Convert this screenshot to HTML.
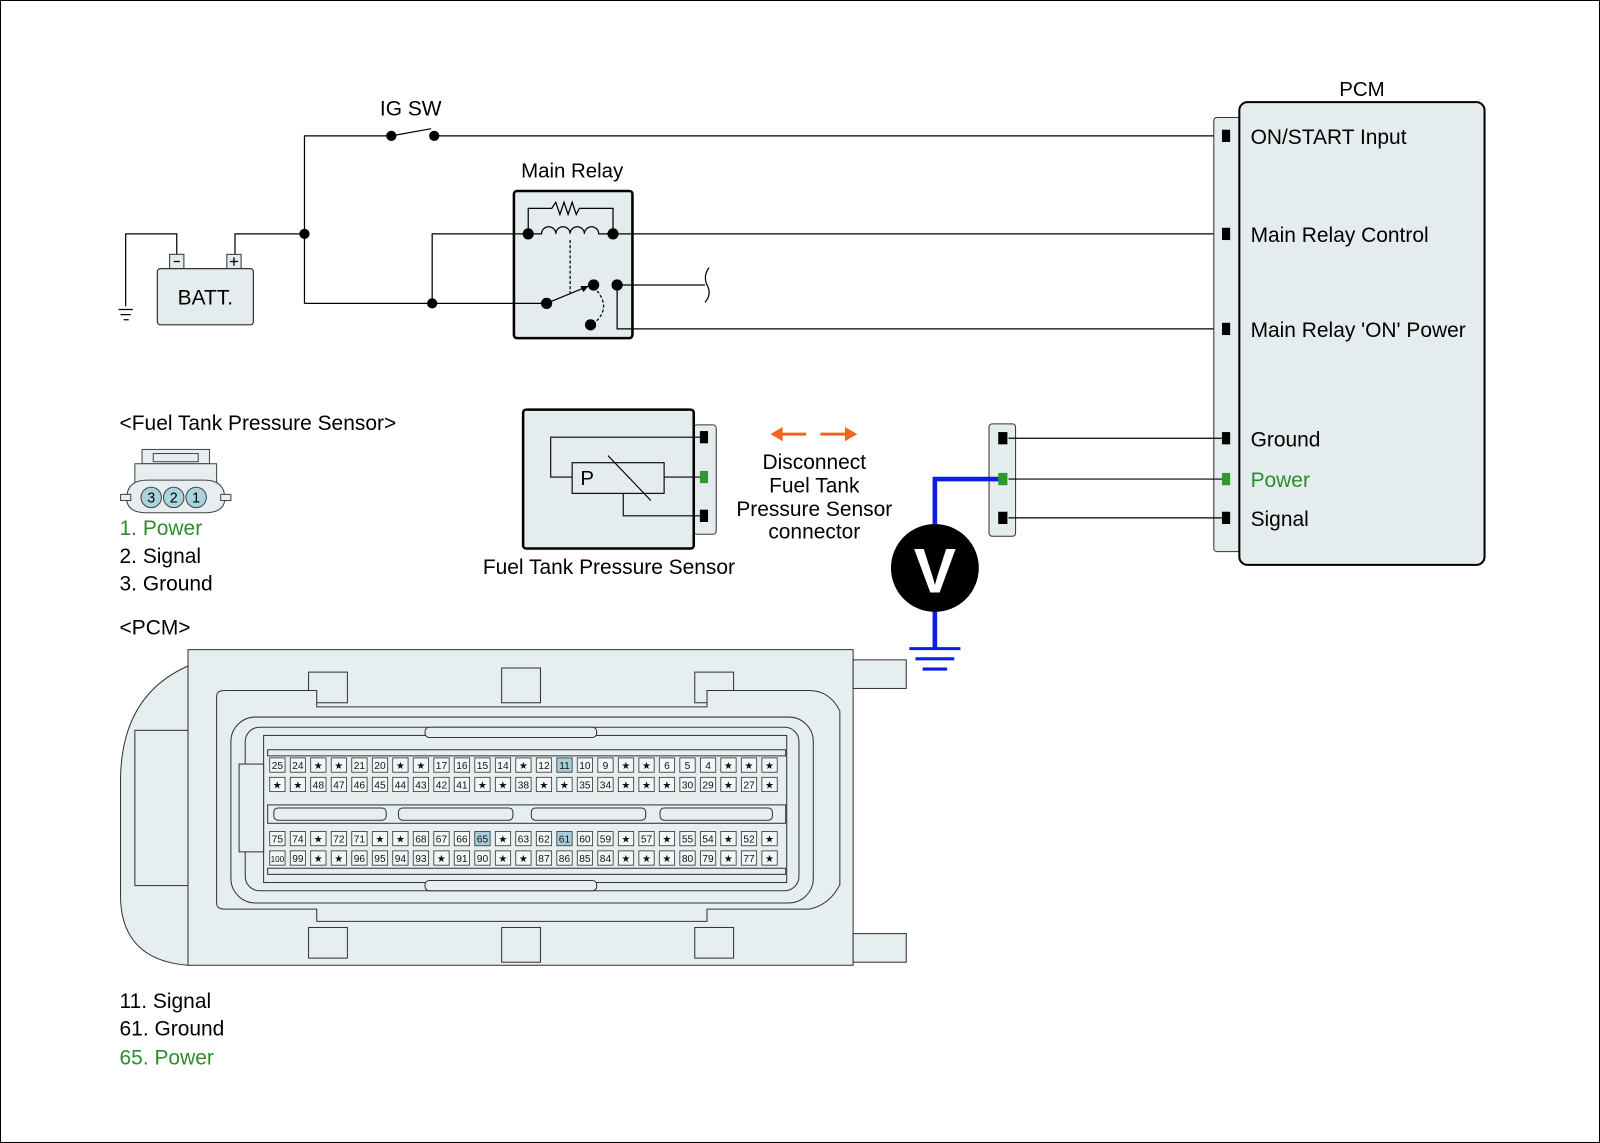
<!DOCTYPE html>
<html><head><meta charset="utf-8"><style>
html,body{margin:0;padding:0;background:#fff}
svg{display:block}
text{font-family:"Liberation Sans",sans-serif}
.p rect{fill:#f4f7f7;stroke:#333;stroke-width:0.8}
.p text{font-size:10px;text-anchor:middle;fill:#111}
</style></head><body>
<svg width="1600" height="1143" viewBox="0 0 1566 1119" preserveAspectRatio="none" xmlns="http://www.w3.org/2000/svg">
<rect x="0.5" y="0.5" width="1565" height="1118" fill="#fff" stroke="#000" stroke-width="1"/>
<text x="560" y="174" font-size="20" text-anchor="middle">Main Relay</text>
<rect x="503" y="187" width="116" height="144" rx="3" fill="#e4eced" stroke="#000" stroke-width="2.5"/>
<g fill="none" stroke="#000" stroke-width="1.2">
<path d="M298 297 V133 H383"/>
<path d="M383 133 L422 126"/>
<path d="M425 133 H1190"/>
<path d="M230 250 V229 H298"/>
<path d="M173 250 V229 H123 V300"/>
<path d="M116 303 H130 M118 308 H128 M121 313 H126"/>
<path d="M298 297 H535"/>
<path d="M423 297 V229 H517"/>
<path d="M600 229 H1195"/>
<path d="M604 279 H690"/>
<path d="M694 262 Q688 270 692 279 Q697 288 690 296"/>
<path d="M604 279 V322 H1195"/>
</g>
<text x="402" y="113" font-size="20.5" text-anchor="middle">IG SW</text>
<circle cx="383" cy="133" r="5"/><circle cx="425" cy="133" r="5"/><circle cx="298" cy="229" r="5"/><circle cx="423" cy="297" r="5"/>
<rect x="166" y="249" width="14" height="14" fill="#e4eced" stroke="#333"/>
<rect x="222" y="249" width="14" height="14" fill="#e4eced" stroke="#333"/>
<path d="M170 256 H176 M225 256 H233 M229 252 V260" stroke="#000" stroke-width="1.3"/>
<rect x="154" y="263" width="94" height="55" rx="3" fill="#e4eced" stroke="#333" stroke-width="1.2"/>
<text x="201" y="298" font-size="20.5" text-anchor="middle">BATT.</text>
<g fill="none" stroke="#000" stroke-width="1.2">
<path d="M517 229 V204 H540 L544 198 L548 210 L552 198 L556 210 L560 198 L564 210 L567 204 H600 V229"/>
<path d="M517 229 H530 a7 7 0 0 1 14 0 a7 7 0 0 1 14 0 a7 7 0 0 1 14 0 a7 7 0 0 1 14 0 H600"/>
<path d="M558 235 V290" stroke-dasharray="3 2"/>
<path d="M581 281 Q600 300 582 316" stroke-dasharray="3 2"/>
<path d="M535 297 L576 280"/>
</g>
<path d="M576 280 l-8 0 l3 6z"/>
<circle cx="517" cy="229" r="5.5"/><circle cx="600" cy="229" r="5.5"/><circle cx="535" cy="297" r="5.5"/><circle cx="581" cy="279" r="5.5"/><circle cx="604" cy="279" r="5.5"/><circle cx="578" cy="318" r="5.5"/>
<text x="1333" y="94" font-size="20" text-anchor="middle">PCM</text>
<rect x="1188" y="115" width="28" height="425" rx="3" fill="#e4eced" stroke="#333"/>
<rect x="1213" y="100" width="240" height="453" rx="8" fill="#e4eced" stroke="#000" stroke-width="2"/>
<g fill="#000"><rect x="1196" y="127" width="8" height="12"/><rect x="1196" y="223" width="8" height="12"/><rect x="1196" y="316" width="8" height="12"/><rect x="1196" y="423" width="8" height="12"/><rect x="1196" y="501" width="8" height="12"/></g>
<rect x="1196" y="463" width="8" height="12" fill="#2e9a2e"/>
<g font-size="20.5"><text x="1224" y="141">ON/START Input</text><text x="1224" y="237">Main Relay Control</text><text x="1224" y="330">Main Relay 'ON' Power</text><text x="1224" y="437">Ground</text><text x="1224" y="477" fill="#2e8b2e">Power</text><text x="1224" y="515">Signal</text></g>
<rect x="968" y="415" width="26" height="110" rx="3" fill="#e4eced" stroke="#333"/>
<path d="M987 429 H1196 M987 469 H1196 M987 507 H1196" stroke="#000" stroke-width="1.2"/>
<rect x="977" y="423" width="9" height="12"/><rect x="977" y="501" width="9" height="12"/>
<path d="M915 515 V469 H981" fill="none" stroke="#0a1ee6" stroke-width="4.5"/>
<path d="M915 598 V635" stroke="#0a1ee6" stroke-width="4.5"/>
<path d="M890 635 H940 M896 645 H934 M903 655 H927" stroke="#0a1ee6" stroke-width="3"/>
<rect x="977" y="463" width="9" height="12" fill="#2e9a2e"/>
<circle cx="915" cy="556" r="43"/>
<text x="915" y="580" font-size="62" font-weight="bold" fill="#fff" text-anchor="middle">V</text>
<path d="M764 425 H789" stroke="#f26522" stroke-width="3"/><path d="M754 425 l12 -7 v14z" fill="#f26522"/>
<path d="M803 425 H828" stroke="#f26522" stroke-width="3"/><path d="M839 425 l-12 -7 v14z" fill="#f26522"/>
<g font-size="20.5" text-anchor="middle"><text x="797" y="459">Disconnect</text><text x="797" y="482">Fuel Tank</text><text x="797" y="505">Pressure Sensor</text><text x="797" y="527">connector</text></g>
<rect x="679" y="416" width="22" height="107" rx="3" fill="#e4eced" stroke="#333"/>
<rect x="512" y="401" width="167" height="136" rx="3" fill="#e4eced" stroke="#000" stroke-width="2.5"/>
<g fill="none" stroke="#000" stroke-width="1.1"><path d="M685 428 H539 V467 H560"/><rect x="560" y="453" width="90" height="30"/><path d="M650 467 H685"/><path d="M610 483 V505 H685"/><path d="M595 446 L637 490"/></g>
<text x="568" y="475" font-size="20">P</text>
<rect x="685" y="422" width="8" height="12"/><rect x="685" y="499" width="8" height="12"/><rect x="685" y="461" width="8" height="12" fill="#2e9a2e"/>
<text x="596" y="562" font-size="20.5" text-anchor="middle">Fuel Tank Pressure Sensor</text>
<g font-size="20.5"><text x="117" y="421">&lt;Fuel Tank Pressure Sensor&gt;</text>
<text x="117" y="524" fill="#2e8b2e">1. Power</text><text x="117" y="551">2. Signal</text><text x="117" y="578">3. Ground</text>
<text x="117" y="621">&lt;PCM&gt;</text>
<text x="117" y="987">11. Signal</text><text x="117" y="1014">61. Ground</text><text x="117" y="1042" fill="#2e8b2e">65. Power</text></g>
<g stroke="#444" fill="#e8eef0" stroke-width="1">
<rect x="139" y="440" width="66" height="14"/><rect x="150" y="444" width="44" height="8"/>
<rect x="132" y="454" width="80" height="20"/>
<path d="M124 488 q0 -18 20 -18 h56 q20 0 20 18 q0 14 -20 14 h-56 q-20 0 -20 -14z"/>
<rect x="118" y="484" width="10" height="6"/><rect x="216" y="484" width="10" height="6"/>
<circle cx="148" cy="487" r="10" fill="#a9d3de"/><circle cx="170" cy="487" r="10" fill="#a9d3de"/><circle cx="192" cy="487" r="10" fill="#a9d3de"/>
</g>
<g font-size="14" text-anchor="middle"><text x="148" y="492">3</text><text x="170" y="492">2</text><text x="192" y="492">1</text></g>
<g stroke="#333" fill="#e6eef0" stroke-width="1">
<path d="M184 652 Q120 680 118 760 V880 Q120 940 184 945 Z"/>
<rect x="132" y="715" width="52" height="152"/>
<rect x="184" y="636" width="651" height="309"/>
<rect x="835" y="646" width="52" height="28"/><rect x="835" y="914" width="52" height="28"/>
<rect x="302" y="658" width="38" height="30"/><rect x="491" y="654" width="38" height="34"/><rect x="680" y="658" width="38" height="30"/>
<rect x="302" y="908" width="38" height="30"/><rect x="491" y="908" width="38" height="34"/><rect x="680" y="908" width="38" height="30"/>
<path d="M212 682 q0 -6 8 -6 h90 v16 h382 v-16 h100 q20 0 30 20 v170 q-10 20 -30 24 h-100 v12 h-382 v-12 h-90 q-8 0 -8 -6z"/>
<rect x="226" y="702" width="570" height="182" rx="24"/>
<rect x="240" y="712" width="542" height="160" rx="14"/>
<rect x="258" y="720" width="512" height="144"/>
<rect x="416" y="712" width="168" height="10" rx="4"/><rect x="416" y="862" width="168" height="10" rx="4"/>
<rect x="262" y="734" width="507" height="6"/>
<rect x="262" y="788" width="507" height="18"/>
<rect x="268" y="791" width="110" height="12" rx="4"/><rect x="390" y="791" width="112" height="12" rx="4"/><rect x="520" y="791" width="112" height="12" rx="4"/><rect x="646" y="791" width="110" height="12" rx="4"/>
<rect x="262" y="850" width="507" height="6"/>
<rect x="234" y="748" width="24" height="86"/>
</g>
<g class="p"><rect x="264" y="742" width="15" height="14"/><text x="271.5" y="753">25</text><rect x="284.1" y="742" width="15" height="14"/><text x="291.6" y="753">24</text><rect x="304.1" y="742" width="15" height="14"/><text x="311.6" y="753">★</text><rect x="324.2" y="742" width="15" height="14"/><text x="331.7" y="753">★</text><rect x="344.3" y="742" width="15" height="14"/><text x="351.8" y="753">21</text><rect x="364.4" y="742" width="15" height="14"/><text x="371.9" y="753">20</text><rect x="384.4" y="742" width="15" height="14"/><text x="391.9" y="753">★</text><rect x="404.5" y="742" width="15" height="14"/><text x="412" y="753">★</text><rect x="424.6" y="742" width="15" height="14"/><text x="432.1" y="753">17</text><rect x="444.6" y="742" width="15" height="14"/><text x="452.1" y="753">16</text><rect x="464.7" y="742" width="15" height="14"/><text x="472.2" y="753">15</text><rect x="484.8" y="742" width="15" height="14"/><text x="492.3" y="753">14</text><rect x="504.8" y="742" width="15" height="14"/><text x="512.3" y="753">★</text><rect x="524.9" y="742" width="15" height="14"/><text x="532.4" y="753">12</text><rect x="545" y="742" width="15" height="14" style="fill:#a9cdd8"/><text x="552.5" y="753">11</text><rect x="565" y="742" width="15" height="14"/><text x="572.5" y="753">10</text><rect x="585.1" y="742" width="15" height="14"/><text x="592.6" y="753">9</text><rect x="605.2" y="742" width="15" height="14"/><text x="612.7" y="753">★</text><rect x="625.3" y="742" width="15" height="14"/><text x="632.8" y="753">★</text><rect x="645.3" y="742" width="15" height="14"/><text x="652.8" y="753">6</text><rect x="665.4" y="742" width="15" height="14"/><text x="672.9" y="753">5</text><rect x="685.5" y="742" width="15" height="14"/><text x="693" y="753">4</text><rect x="705.5" y="742" width="15" height="14"/><text x="713" y="753">★</text><rect x="725.6" y="742" width="15" height="14"/><text x="733.1" y="753">★</text><rect x="745.7" y="742" width="15" height="14"/><text x="753.2" y="753">★</text></g>
<g class="p"><rect x="264" y="761" width="15" height="14"/><text x="271.5" y="772">★</text><rect x="284.1" y="761" width="15" height="14"/><text x="291.6" y="772">★</text><rect x="304.1" y="761" width="15" height="14"/><text x="311.6" y="772">48</text><rect x="324.2" y="761" width="15" height="14"/><text x="331.7" y="772">47</text><rect x="344.3" y="761" width="15" height="14"/><text x="351.8" y="772">46</text><rect x="364.4" y="761" width="15" height="14"/><text x="371.9" y="772">45</text><rect x="384.4" y="761" width="15" height="14"/><text x="391.9" y="772">44</text><rect x="404.5" y="761" width="15" height="14"/><text x="412" y="772">43</text><rect x="424.6" y="761" width="15" height="14"/><text x="432.1" y="772">42</text><rect x="444.6" y="761" width="15" height="14"/><text x="452.1" y="772">41</text><rect x="464.7" y="761" width="15" height="14"/><text x="472.2" y="772">★</text><rect x="484.8" y="761" width="15" height="14"/><text x="492.3" y="772">★</text><rect x="504.8" y="761" width="15" height="14"/><text x="512.3" y="772">38</text><rect x="524.9" y="761" width="15" height="14"/><text x="532.4" y="772">★</text><rect x="545" y="761" width="15" height="14"/><text x="552.5" y="772">★</text><rect x="565" y="761" width="15" height="14"/><text x="572.5" y="772">35</text><rect x="585.1" y="761" width="15" height="14"/><text x="592.6" y="772">34</text><rect x="605.2" y="761" width="15" height="14"/><text x="612.7" y="772">★</text><rect x="625.3" y="761" width="15" height="14"/><text x="632.8" y="772">★</text><rect x="645.3" y="761" width="15" height="14"/><text x="652.8" y="772">★</text><rect x="665.4" y="761" width="15" height="14"/><text x="672.9" y="772">30</text><rect x="685.5" y="761" width="15" height="14"/><text x="693" y="772">29</text><rect x="705.5" y="761" width="15" height="14"/><text x="713" y="772">★</text><rect x="725.6" y="761" width="15" height="14"/><text x="733.1" y="772">27</text><rect x="745.7" y="761" width="15" height="14"/><text x="753.2" y="772">★</text></g>
<g class="p"><rect x="264" y="814" width="15" height="14"/><text x="271.5" y="825">75</text><rect x="284.1" y="814" width="15" height="14"/><text x="291.6" y="825">74</text><rect x="304.1" y="814" width="15" height="14"/><text x="311.6" y="825">★</text><rect x="324.2" y="814" width="15" height="14"/><text x="331.7" y="825">72</text><rect x="344.3" y="814" width="15" height="14"/><text x="351.8" y="825">71</text><rect x="364.4" y="814" width="15" height="14"/><text x="371.9" y="825">★</text><rect x="384.4" y="814" width="15" height="14"/><text x="391.9" y="825">★</text><rect x="404.5" y="814" width="15" height="14"/><text x="412" y="825">68</text><rect x="424.6" y="814" width="15" height="14"/><text x="432.1" y="825">67</text><rect x="444.6" y="814" width="15" height="14"/><text x="452.1" y="825">66</text><rect x="464.7" y="814" width="15" height="14" style="fill:#a9cdd8"/><text x="472.2" y="825">65</text><rect x="484.8" y="814" width="15" height="14"/><text x="492.3" y="825">★</text><rect x="504.8" y="814" width="15" height="14"/><text x="512.3" y="825">63</text><rect x="524.9" y="814" width="15" height="14"/><text x="532.4" y="825">62</text><rect x="545" y="814" width="15" height="14" style="fill:#a9cdd8"/><text x="552.5" y="825">61</text><rect x="565" y="814" width="15" height="14"/><text x="572.5" y="825">60</text><rect x="585.1" y="814" width="15" height="14"/><text x="592.6" y="825">59</text><rect x="605.2" y="814" width="15" height="14"/><text x="612.7" y="825">★</text><rect x="625.3" y="814" width="15" height="14"/><text x="632.8" y="825">57</text><rect x="645.3" y="814" width="15" height="14"/><text x="652.8" y="825">★</text><rect x="665.4" y="814" width="15" height="14"/><text x="672.9" y="825">55</text><rect x="685.5" y="814" width="15" height="14"/><text x="693" y="825">54</text><rect x="705.5" y="814" width="15" height="14"/><text x="713" y="825">★</text><rect x="725.6" y="814" width="15" height="14"/><text x="733.1" y="825">52</text><rect x="745.7" y="814" width="15" height="14"/><text x="753.2" y="825">★</text></g>
<g class="p"><rect x="264" y="833" width="15" height="14"/><text x="271.5" y="844" style="font-size:8px">100</text><rect x="284.1" y="833" width="15" height="14"/><text x="291.6" y="844">99</text><rect x="304.1" y="833" width="15" height="14"/><text x="311.6" y="844">★</text><rect x="324.2" y="833" width="15" height="14"/><text x="331.7" y="844">★</text><rect x="344.3" y="833" width="15" height="14"/><text x="351.8" y="844">96</text><rect x="364.4" y="833" width="15" height="14"/><text x="371.9" y="844">95</text><rect x="384.4" y="833" width="15" height="14"/><text x="391.9" y="844">94</text><rect x="404.5" y="833" width="15" height="14"/><text x="412" y="844">93</text><rect x="424.6" y="833" width="15" height="14"/><text x="432.1" y="844">★</text><rect x="444.6" y="833" width="15" height="14"/><text x="452.1" y="844">91</text><rect x="464.7" y="833" width="15" height="14"/><text x="472.2" y="844">90</text><rect x="484.8" y="833" width="15" height="14"/><text x="492.3" y="844">★</text><rect x="504.8" y="833" width="15" height="14"/><text x="512.3" y="844">★</text><rect x="524.9" y="833" width="15" height="14"/><text x="532.4" y="844">87</text><rect x="545" y="833" width="15" height="14"/><text x="552.5" y="844">86</text><rect x="565" y="833" width="15" height="14"/><text x="572.5" y="844">85</text><rect x="585.1" y="833" width="15" height="14"/><text x="592.6" y="844">84</text><rect x="605.2" y="833" width="15" height="14"/><text x="612.7" y="844">★</text><rect x="625.3" y="833" width="15" height="14"/><text x="632.8" y="844">★</text><rect x="645.3" y="833" width="15" height="14"/><text x="652.8" y="844">★</text><rect x="665.4" y="833" width="15" height="14"/><text x="672.9" y="844">80</text><rect x="685.5" y="833" width="15" height="14"/><text x="693" y="844">79</text><rect x="705.5" y="833" width="15" height="14"/><text x="713" y="844">★</text><rect x="725.6" y="833" width="15" height="14"/><text x="733.1" y="844">77</text><rect x="745.7" y="833" width="15" height="14"/><text x="753.2" y="844">★</text></g>
</svg>
</body></html>
